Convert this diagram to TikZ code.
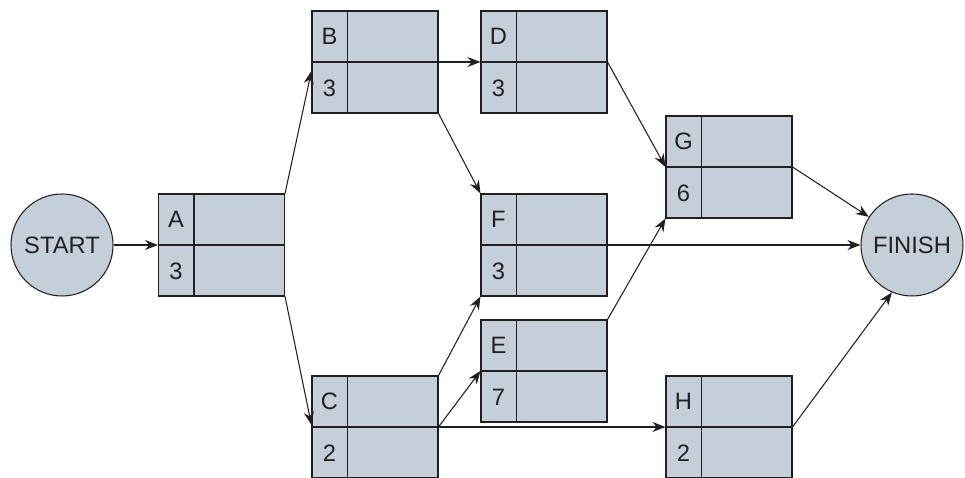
\documentclass[tikz,border=0pt]{standalone}
\usepackage{fontspec}
\setmainfont{Liberation Sans}
\usepackage{tikz}
\usetikzlibrary{arrows.meta,calc}
\definecolor{nodegray}{RGB}{197, 207, 217}
\definecolor{linegray}{RGB}{35, 31, 32}

\begin{document}
\begin{tikzpicture}[line width=0.6pt, color=linegray,
  actbox/.style={rectangle, draw, fill=nodegray, minimum width=2.52cm, minimum height=2.04cm, inner sep=0pt},
  event/.style={circle, draw, fill=nodegray, minimum size=2.04cm, inner sep=0pt, font=\fontsize{13.5}{16}\selectfont},
  cell/.style={inner sep=0pt, font=\fontsize{13.5}{16}\selectfont},
  link/.style={-{Stealth[length=2.6mm,width=2mm]}}]
\useasboundingbox (0,0) rectangle (19.3,9.56);
% start and finish events
\node[event] (start) at (1.24,4.66) {START};
\node[event] (finish) at (18.24,4.66) {FINISH};
% activity boxes: name / x / y / duration
\foreach \n/\x/\y/\d in {A/4.43/4.66/3, B/7.5/8.32/3, C/7.5/1.02/2, D/10.88/8.32/3,
                         E/10.88/2.14/7, F/10.88/4.66/3, G/14.58/6.22/6, H/14.58/1.02/2} {
  \node[actbox] (\n) at (\x,\y) {};
  \draw (\n.west) -- (\n.east);
  \draw ($(\n.north west)+(0.72,0)$) -- ($(\n.south west)+(0.72,0)$);
  \node[cell] (\n-name) at ($(\n.north west)+(0.36,-0.51)$) {\n};
  \node[cell] (\n-time) at ($(\n.south west)+(0.36,0.51)$) {\d};
}
% precedence links
\draw[link] (start) -- (A.west);
\draw[link] (A.north east) -- ([yshift=-0.18cm]B.west);
\draw[link] (A.south east) -- ([yshift=0.04cm]C.west);
\draw[link] (B.east) -- (D.west);
\draw[link] (B.south east) -- (F.north west);
\draw[link] (D.east) -- (G.west);
\draw[link] (C.north east) -- (F.south west);
\draw[link] (C.east) -- (E.west);
\draw[link] (C.east) -- (H.west);
\draw[link] (E.north east) -- (G.south west);
\draw[link] (F.east) -- (finish);
\draw[link] (G.east) -- (finish);
\draw[link] (H.east) -- (finish.-113);
\end{tikzpicture}
\end{document}
